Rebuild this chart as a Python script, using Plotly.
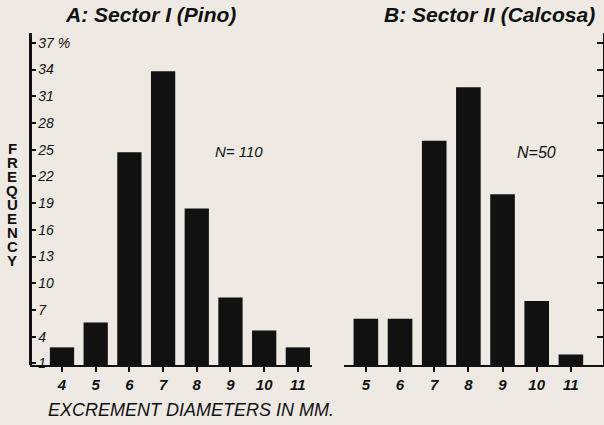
import plotly.graph_objects as go

# Data
diam_a = [4, 5, 6, 7, 8, 9, 10, 11]
freq_a = [2.8, 5.6, 24.7, 33.8, 18.4, 8.4, 4.7, 2.8]
diam_b = [5, 6, 7, 8, 9, 10, 11]
freq_b = [6, 6, 26, 32, 20, 8, 2]
y_ticks = [1, 4, 7, 10, 13, 16, 19, 22, 25, 28, 31, 34, 37]
y_tick_text = ["1", "4", "7", "10", "13", "16", "19", "22", "25", "28", "31", "34", "37 %"]
title_a = "A: Sector I (Pino)"
title_b = "B: Sector II (Calcosa)"
n_a = "N= 110"
n_b = "N=50"
x_title = "EXCREMENT DIAMETERS IN MM."
y_title = "FREQUENCY"

BG = "#eeeae3"
INK = "#111111"
FONT = "Liberation Sans"
W, H = 604, 425
ML, MR, MT, MB = 30, 1, 33, 60
PW, PH = W - ML - MR, H - MT - MB


def px(xp):
    return (xp - ML) / PW


def py(yp):
    return (H - MB - yp) / PH


fig = go.Figure()
fig.add_trace(go.Bar(x=diam_a, y=freq_a, width=0.72, marker=dict(color=INK, line=dict(width=0)),
                     xaxis="x", yaxis="y", showlegend=False, hoverinfo="skip"))
fig.add_trace(go.Bar(x=diam_b, y=freq_b, width=0.72, marker=dict(color=INK, line=dict(width=0)),
                     xaxis="x2", yaxis="y2", showlegend=False, hoverinfo="skip"))

yr = [0.82, 38.1]
tickfont_x = dict(family=FONT, size=15, color=INK, style="italic", weight="bold")
fig.update_layout(
    width=W, height=H,
    margin=dict(l=ML, r=MR, t=MT, b=MB),
    paper_bgcolor=BG, plot_bgcolor=BG,
    xaxis=dict(domain=[0, px(312)], range=[3.05, 11.42], tickvals=diam_a, ticktext=[str(v) for v in diam_a],
               showline=True, linewidth=2, linecolor=INK, ticks="outside", ticklen=5, tickwidth=2,
               tickcolor=INK, showgrid=False, zeroline=False, tickfont=tickfont_x, anchor="y"),
    xaxis2=dict(domain=[px(344), 1], range=[4.36, 11.94], tickvals=diam_b, ticktext=[str(v) for v in diam_b],
                showline=True, linewidth=2, linecolor=INK, ticks="outside", ticklen=5, tickwidth=2,
                tickcolor=INK, showgrid=False, zeroline=False, tickfont=tickfont_x, anchor="y2"),
    yaxis=dict(domain=[0, 1], range=yr, tickvals=y_ticks, ticktext=y_tick_text,
               side="right", anchor="free", position=0,
               ticks="outside", ticklen=4, tickwidth=2, tickcolor=INK,
               showline=True, linewidth=2.5, linecolor=INK, showgrid=False, zeroline=False,
               tickfont=dict(family=FONT, size=14, color=INK, style="italic")),
    yaxis2=dict(domain=[0, 1], range=yr, tickvals=y_ticks[1:], showticklabels=False, side="right",
                ticks="inside", ticklen=6, tickwidth=2, tickcolor=INK,
                showline=True, linewidth=2, linecolor=INK, showgrid=False, zeroline=False, anchor="x2"),
)

ann_font = dict(family=FONT, size=21, color=INK, style="italic", weight="bold")
fig.add_annotation(text=title_a, xref="paper", yref="paper", x=px(150), y=py(15), xanchor="center",
                   yanchor="middle", showarrow=False, font=ann_font)
fig.add_annotation(text=title_b, xref="paper", yref="paper", x=px(489), y=py(15), xanchor="center",
                   yanchor="middle", showarrow=False, font=ann_font)
fig.add_annotation(text=n_a, xref="paper", yref="paper", x=px(213), y=py(151), xanchor="left",
                   yanchor="middle", showarrow=False,
                   font=dict(family=FONT, size=15, color=INK, style="italic"))
fig.add_annotation(text=n_b, xref="paper", yref="paper", x=px(515), y=py(152), xanchor="left",
                   yanchor="middle", showarrow=False,
                   font=dict(family=FONT, size=16, color=INK, style="italic"))
fig.add_annotation(text=x_title, xref="paper", yref="paper", x=px(46), y=py(410), xanchor="left",
                   yanchor="middle", showarrow=False,
                   font=dict(family=FONT, size=18, color=INK, style="italic"))
for i, ch in enumerate(y_title):
    fig.add_annotation(text=ch, xref="paper", yref="paper", x=px(12), y=py(148 + i * 14.1),
                       xanchor="center", yanchor="middle", showarrow=False,
                       font=dict(family=FONT, size=15, color=INK, weight="bold"))

fig.write_html("out.html", config={"displayModeBar": False, "staticPlot": True},
               post_script="document.body.style.margin='0';")
